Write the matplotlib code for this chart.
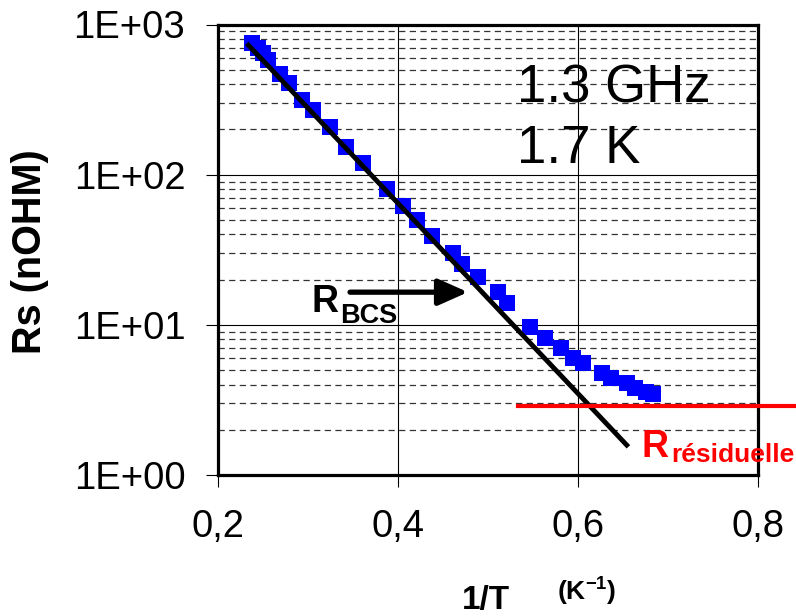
import matplotlib
matplotlib.use("Agg")
import matplotlib.pyplot as plt
from matplotlib.ticker import LogLocator, FuncFormatter, NullFormatter

plt.rcParams["font.family"] = ["Liberation Sans", "DejaVu Sans"]
plt.rcParams["mathtext.fontset"] = "custom"
plt.rcParams["mathtext.rm"] = "Liberation Sans:bold"
plt.rcParams["mathtext.bf"] = "Liberation Sans:bold"

# measured surface resistance vs inverse temperature
inv_T = [0.238, 0.244, 0.250, 0.256, 0.269, 0.279, 0.293, 0.306, 0.324, 0.342,
         0.361, 0.388, 0.406, 0.421, 0.438, 0.461, 0.471, 0.489, 0.511, 0.521,
         0.547, 0.563, 0.581, 0.594, 0.606, 0.627, 0.637, 0.654, 0.663, 0.676,
         0.683]
Rs = [748, 693, 642, 577, 466, 406, 313, 268, 207, 154,
      119, 80, 61.6, 49.7, 38.9, 30.0, 25.3, 20.8, 16.5, 13.9,
      9.65, 8.16, 7.0, 6.0, 5.56, 4.77, 4.42, 4.09, 3.79, 3.57,
      3.46]

# BCS fit (straight line on the log scale)
fit_x = [0.232, 0.656]
fit_y = [748, 1.54]

# residual resistance level
res_x = [0.533, 0.842]
res_y = [2.88, 2.88]

x_ticks = [0.2, 0.4, 0.6, 0.8]
y_ticks = [1, 10, 100, 1000]

W, H = 796, 616
fig = plt.figure(figsize=(W / 100, H / 100), dpi=100)
ax = fig.add_axes([218 / W, 1 - 475 / H, (758 - 218) / W, (475 - 24.5) / H])

ax.set_yscale("log")
ax.set_xlim(0.2, 0.8)
ax.set_ylim(1, 1000)
ax.set_axisbelow(True)

ax.plot(inv_T, Rs, "s", color="#0000ff", markersize=11.5, markeredgewidth=0, zorder=3)
ax.plot(fit_x, fit_y, color="black", linewidth=3.5, solid_capstyle="butt", zorder=4)
ax.plot(res_x, res_y, color="#ff0000", linewidth=3, clip_on=False, zorder=4)

ax.set_xticks(x_ticks)
ax.set_yticks(y_ticks)
ax.xaxis.set_major_formatter(FuncFormatter(lambda v, p: f"{v:.1f}".replace(".", ",")))
ax.yaxis.set_major_formatter(FuncFormatter(lambda v, p: format(v, ".0E")))
ax.yaxis.set_minor_locator(LogLocator(base=10, subs=range(2, 10)))
ax.yaxis.set_minor_formatter(NullFormatter())
ax.tick_params(which="major", direction="out", length=8.5, width=0.8,
               labelsize=27.5, pad=15)
ax.tick_params(axis="x", pad=16)
ax.tick_params(which="minor", length=0)

ax.grid(which="major", color="black", linewidth=0.8, linestyle="-")
ax.grid(which="minor", axis="y", color="#333333", linewidth=0.9,
        linestyle=(0, (5, 3.5)))
for s in ax.spines.values():
    s.set_linewidth(2.3)

# frequency / temperature
ax.text(0.532, 303, "1.3 GHz", fontsize=38, va="baseline", ha="left")
ax.text(0.532, 119, "1.7 K", fontsize=38, va="baseline", ha="left")

# R_BCS label with arrow
ax.text(0.3044, 12.15, "R", fontsize=27, weight="bold", va="baseline")
ax.text(0.3356, 10.26, "BCS", fontsize=19.5, weight="bold", va="baseline")
ax.annotate("", xy=(0.4778, 16.5), xytext=(0.3467, 16.5),
            arrowprops=dict(arrowstyle="-|>,head_length=1.8,head_width=0.8",
                            color="black", linewidth=3.8, shrinkA=0, shrinkB=0))

# residual label
ax.text(0.6711, 1.318, "R", fontsize=27, weight="bold", color="#ff0000", va="baseline")
ax.text(0.7033, 1.22, "résiduelle", fontsize=19, weight="bold", color="#ff0000",
        va="baseline")

# axis titles
fig.text(41 / W, 1 - 252 / H, "Rs (nOHM)", fontsize=28.5, weight="bold",
         rotation=90, rotation_mode="anchor", ha="center", va="baseline")
fig.text(462 / W, 1 - 609 / H, "1/T", fontsize=24, weight="bold", va="baseline")
fig.text(557 / W, 1 - 600 / H, r"(K$^{-1}$)", fontsize=19, weight="bold",
         va="baseline")

fig.savefig("out.png", dpi=100)
